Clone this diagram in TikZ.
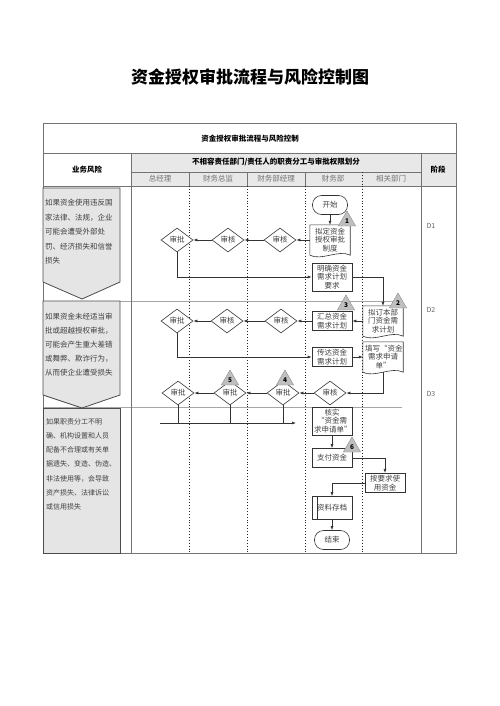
\documentclass[tikz,border=0pt]{standalone}
\usepackage{fontspec}
\setmainfont{Noto Sans CJK SC}
\usetikzlibrary{arrows.meta,shapes.geometric}

\begin{document}
\begin{tikzpicture}[x=1pt,y=-1pt,>/.tip={Latex[length=4pt,width=3pt]},
    every node/.style={font=\fontsize{7.5}{8.5}\selectfont, text=black!75},
    grid/.style={draw=black!55, line width=0.9pt},
    flow/.style={draw=black!80, line width=0.6pt},
    box/.style={flow, fill=white, text width=36pt, align=center, inner sep=2pt, minimum height=19pt},
    dec/.style={flow, fill=white, diamond, minimum width=32pt, minimum height=24pt, inner sep=0pt},
    term/.style={flow, fill=white, rounded corners=9pt, minimum width=35pt, minimum height=19pt},
    doc/.style={fill=white, text width=36pt, align=center, inner xsep=2pt, inner ysep=3pt},
    tri/.style={draw=black!45, fill=black!25, regular polygon, regular polygon sides=3, minimum size=20pt, inner sep=0pt, font=\fontsize{6.5}{7}\selectfont\bfseries, text=black},
    risk/.style={draw=black!70, line width=0.8pt, fill=black!10},
    risktext/.style={anchor=north west, align=left, inner sep=0pt, text=black!75},
    hd/.style={font=\fontsize{7.5}{9}\selectfont\bfseries, text=black}]
    \useasboundingbox (0,0) rectangle (500,706);
    \node[font=\fontsize{17}{20}\selectfont\bfseries, text=black] (title) at (250,77) {资金授权审批流程与风险控制图};

    \fill[black!9] (131,153) rectangle (456,186);
    \draw[black!35, line width=0.8pt] (43,301) -- (402,301)  (43,407) -- (402,407);
    \draw[grid] (43,123) rectangle (456,553);
    \draw[grid] (43,153) -- (456,153)  (43,186) -- (456,186)  (131,172) -- (421,172);
    \draw[grid] (131,153) -- (131,553)  (421,153) -- (421,553);
    \foreach \x in {189,247,305} {
        \draw[grid, line width=0.6pt] (\x,172) -- (\x,186);
    }
    \foreach \x in {189,247,305,362} {
        \draw[dotted, line width=0.9pt, black!85] (\x,186) -- (\x,553);
    }
    \draw[dotted, line width=0.9pt, black!85] (362,172) -- (362,186);

    \node[hd] (head) at (250,139) {资金授权审批流程与风险控制};
    \node[hd] (riskhead) at (87,170) {业务风险};
    \node[hd] (duty) at (276,162) {不相容责任部门/责任人的职责分工与审批权限划分};
    \node[hd] (stage) at (438,170) {阶段};
    \foreach \x/\t [count=\i] in {160/总经理,218/财务总监,276/财务部经理,333/财务部,391/相关部门} {
        \node[text=black!55] (lane\i) at (\x,179) {\t};
    }
    \foreach \y [count=\i] in {226,310,394} {
        \node[anchor=west, font=\fontsize{7}{8}\selectfont, text=black!60] (d\i) at (423,\y) {D\i};
    }

    \draw[risk] (43,188) -- (120,188) -- (120,282) -- (82,299) -- (43,282) -- cycle;
    \draw[risk] (43,301) -- (120,301) -- (120,395) -- (82,408) -- (43,395) -- cycle;
    \draw[risk] (43,408) rectangle (120,553);
    \node[risktext, font=\fontsize{7.5}{14.5}\selectfont] (risk1) at (45,199) {如果资金使用违反国\\家法律、法规，企业\\可能会遭受外部处\\罚、经济损失和信誉\\损失};
    \node[risktext, font=\fontsize{7.5}{14}\selectfont] (risk2) at (45,313) {如果资金未经适当审\\批或超越授权审批，\\可能会产生重大差错\\或舞弊、欺诈行为，\\从而使企业遭受损失};
    \node[risktext, font=\fontsize{7}{14.3}\selectfont] (risk3) at (46,418) {如果职责分工不明\\确、机构设置和人员\\配备不合理或有关单\\据遗失、变造、伪造、\\非法使用等，会导致\\资产损失、法律诉讼\\或信用损失};

    \node[term] (start) at (330,205) {开始};
    \node[doc] (plan) at (330,240) {拟定资金\\授权审批\\制度};
    \node[dec] (chk1a) at (280,240) {审核};
    \node[dec] (chk1b) at (228,240) {审核};
    \node[dec] (app1) at (177,240) {审批};
    \node[box] (clarify) at (332,277) {明确资金\\需求计划\\要求};
    \node[doc] (deptplan) at (383,321) {拟订本部\\门资金需\\求计划};
    \node[box] (sumup) at (332,321) {汇总资金\\需求计划};
    \node[dec] (chk2a) at (281,321) {审核};
    \node[dec] (chk2b) at (227,321) {审核};
    \node[dec] (app2) at (177,321) {审批};
    \node[box] (relay) at (332,357) {传达资金\\需求计划};
    \node[doc] (form) at (383,357) {填写“资金\\需求申请\\单”};
    \node[dec] (chk3) at (330,393) {审核};
    \node[dec] (app3c) at (283,393) {审批};
    \node[dec] (app3b) at (230,393) {审批};
    \node[dec] (app3a) at (178,393) {审批};
    \node[box] (verify) at (332,421) {核实\\“资金需\\求申请单”};
    \node[box] (pay) at (332,458) {支付资金};
    \node[box] (use) at (385,483) {按要求使\\用资金};
    \node[box, minimum height=23pt] (archive) at (332,508) {资料存档};
    \node[term] (end) at (332,540) {结束};
    \coordinate (barL) at (160,423);
    \coordinate (barR) at (296,423);

    \foreach \d in {plan,deptplan,form} {
        \draw[flow] (\d.north west) -- (\d.north east) -- (\d.south east) .. controls +(-12,-6) and +(12,6) .. (\d.south west) -- cycle;
    }
    \draw[flow] ([xshift=6pt]archive.north west) -- ([xshift=6pt]archive.south west);

    \foreach \a/\b in {start/plan,plan/chk1a,chk1a/chk1b,chk1b/app1,deptplan/sumup,sumup/chk2a,chk2a/chk2b,chk2b/app2,relay/form,chk3/app3c,app3c/app3b,app3b/app3a,verify/pay,archive/end} {
        \draw[flow,->] (\a) -- (\b);
    }
    \draw[flow,->] (app1.south) |- (clarify.west);
    \draw[flow,->] (clarify.east) -| (deptplan.north);
    \draw[flow,->] (app2.south) |- (relay.west);
    \draw[flow,->] (form.south) |- (chk3.east);
    \draw[flow,->] (pay.east) -| (use.north);
    \draw[flow,->] (use.west) -| (archive.north);
    \draw[flow,->] (barL) -- (barR);
    \foreach \n in {app3a,app3b,app3c} {
        \draw[flow] (\n.south) -- (\n.south |- barL);
    }

    \foreach \x/\y [count=\i] in {347/221,398/303,346/305,285/380,230/380,352/447} {
        \node[tri] (tri\i) at (\x,\y) {\i};
    }
\end{tikzpicture}
\end{document}
